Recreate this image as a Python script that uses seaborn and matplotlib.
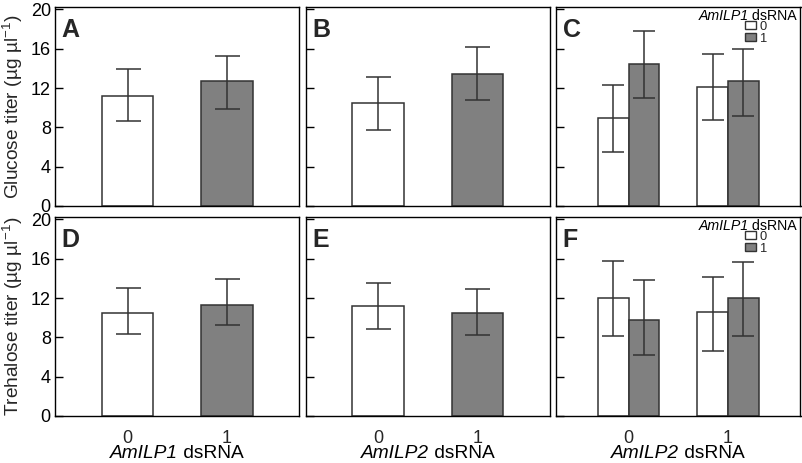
import matplotlib
matplotlib.use("Agg")
import matplotlib.pyplot as plt
import seaborn as sns
import pandas as pd
import numpy as np
from matplotlib.patches import Patch
from matplotlib.transforms import IdentityTransform

sns.set_theme(style="ticks")
plt.rcParams["font.family"] = ["Liberation Sans", "DejaVu Sans"]
plt.rcParams["mathtext.fontset"] = "custom"
plt.rcParams["mathtext.rm"] = "Liberation Sans"
plt.rcParams["mathtext.it"] = "Liberation Sans:italic"
plt.rcParams["mathtext.bf"] = "Liberation Sans:bold"

# ---------------- data ----------------
levels = ["0", "1"]

# Glucose
A_mean = [11.2, 12.75]
A_lo = [8.6, 9.9]
A_hi = [13.9, 15.3]

B_mean = [10.45, 13.45]
B_lo = [7.76, 10.78]
B_hi = [13.15, 16.14]

# C: x = AmILP2 dsRNA, hue = AmILP1 dsRNA
C_ilp1_0_mean = [8.98, 12.1]
C_ilp1_0_lo = [5.53, 8.75]
C_ilp1_0_hi = [12.34, 15.5]
C_ilp1_1_mean = [14.4, 12.7]
C_ilp1_1_lo = [11.0, 9.19]
C_ilp1_1_hi = [17.8, 16.0]

# Trehalose
D_mean = [10.44, 11.33]
D_lo = [8.3, 9.26]
D_hi = [13.0, 13.9]

E_mean = [11.2, 10.5]
E_lo = [8.88, 8.23]
E_hi = [13.57, 12.9]

F_ilp1_0_mean = [11.97, 10.54]
F_ilp1_0_lo = [8.16, 6.6]
F_ilp1_0_hi = [15.74, 14.15]
F_ilp1_1_mean = [9.8, 11.97]
F_ilp1_1_lo = [6.2, 8.09]
F_ilp1_1_hi = [13.8, 15.68]

panel_letters = ["A", "B", "C", "D", "E", "F"]
xlabel_genes = ["AmILP1", "AmILP2", "AmILP2"]
xlabel_suffix = " dsRNA"
ylabels = [r"Glucose titer (µg µl$^{-1}$)", r"Trehalose titer (µg µl$^{-1}$)"]
legend_gene = "AmILP1"
legend_suffix = " dsRNA"
yticks = [0, 4, 8, 12, 16, 20]

# ---------------- style ----------------
WHITE = "#ffffff"
GRAY = "#808080"
EDGE = "#333333"
FS = 13
LFS = 13.8

W, H = 803, 463
fig = plt.figure(figsize=(W / 100, H / 100), dpi=100)
lefts = [55, 305.5, 556]
axw = 244.5
rows = [(7, 206), (217, 416)]

axes = []
for r, (top, bot) in enumerate(rows):
    for c, l in enumerate(lefts):
        ax = fig.add_axes([l / W, 1 - bot / H, axw / W, (bot - top) / H])
        axes.append(ax)


def add_errorbars(ax, xs, mean, lo, hi, cap):
    m = np.array(mean)
    ax.errorbar(xs, m, yerr=[m - np.array(lo), np.array(hi) - m], fmt="none",
                ecolor=EDGE, elinewidth=1.1, capsize=cap, capthick=1.1, zorder=5)


def simple_panel(ax, mean, lo, hi):
    df = pd.DataFrame({"grp": levels, "val": mean})
    sns.barplot(data=df, x="grp", y="val", hue="grp", palette=[WHITE, GRAY],
                width=0.52, dodge=False, legend=False, edgecolor=EDGE,
                linewidth=1.1, ax=ax, errorbar=None, order=levels, hue_order=levels)
    xs = sorted([p.get_x() + p.get_width() / 2 for p in ax.patches])
    add_errorbars(ax, xs, mean, lo, hi, 9)


def hue_panel(ax, m0, lo0, hi0, m1, lo1, hi1):
    df = pd.DataFrame({"ilp2": levels * 2,
                       "ilp1": ["0", "0", "1", "1"],
                       "val": m0 + m1})
    sns.barplot(data=df, x="ilp2", y="val", hue="ilp1", palette=[WHITE, GRAY],
                width=0.62, legend=False, edgecolor=EDGE, linewidth=1.1, ax=ax,
                errorbar=None, order=levels, hue_order=levels)
    for cont, m, lo, hi in zip(ax.containers, [m0, m1], [lo0, lo1], [hi0, hi1]):
        xs = [p.get_x() + p.get_width() / 2 for p in cont]
        add_errorbars(ax, xs, m, lo, hi, 8)
    handles = [Patch(facecolor=WHITE, edgecolor=EDGE, linewidth=1, label="0"),
               Patch(facecolor=GRAY, edgecolor=EDGE, linewidth=1, label="1")]
    ax.legend(handles=handles, loc="upper left", bbox_to_anchor=(0.775, 0.93),
              frameon=False, fontsize=9.3, handlelength=0.8, handleheight=0.55,
              handletextpad=0.3, labelspacing=0.0, borderpad=0.0,
              borderaxespad=0.0)


simple_panel(axes[0], A_mean, A_lo, A_hi)
simple_panel(axes[1], B_mean, B_lo, B_hi)
hue_panel(axes[2], C_ilp1_0_mean, C_ilp1_0_lo, C_ilp1_0_hi,
          C_ilp1_1_mean, C_ilp1_1_lo, C_ilp1_1_hi)
simple_panel(axes[3], D_mean, D_lo, D_hi)
simple_panel(axes[4], E_mean, E_lo, E_hi)
hue_panel(axes[5], F_ilp1_0_mean, F_ilp1_0_lo, F_ilp1_0_hi,
          F_ilp1_1_mean, F_ilp1_1_lo, F_ilp1_1_hi)

for i, ax in enumerate(axes):
    r, c = divmod(i, 3)
    ax.set_ylim(0, 20.25)
    ax.set_xlim(-0.73, 1.73)
    ax.set_yticks(yticks)
    ax.tick_params(axis="y", direction="in", length=5.5, width=1, colors="black",
                   labelsize=FS, pad=3)
    ax.tick_params(axis="x", length=0, labelsize=FS, pad=10)
    for s in ax.spines.values():
        s.set_visible(True)
        s.set_color("black")
        s.set_linewidth(1)
    if c != 0:
        ax.set_yticklabels([])
        ax.set_ylabel("")
    else:
        ax.set_ylabel(ylabels[r], fontsize=LFS, labelpad=4)
    ax.set_xlabel("")
    if r == 0:
        ax.set_xticklabels([])
    else:
        ax.set_xticks([0, 1])
        ax.set_xticklabels(levels)
    ax.text(0.028, 0.945, panel_letters[i], transform=ax.transAxes, fontsize=18,
            fontweight="bold", va="top", ha="left")

renderer = fig.canvas.get_renderer()


def mixed_text(parts, x, y, ha, fs):
    """parts: list of (string, style); x, y in image pixels from top-left."""
    texts = [fig.text(0, 0, s, fontstyle=st, fontsize=fs, color="black",
                      transform=IdentityTransform(), ha="left", va="center")
             for s, st in parts]
    widths = [t.get_window_extent(renderer).width for t in texts]
    total = sum(widths)
    if ha == "center":
        x0 = x - total / 2
    elif ha == "right":
        x0 = x - total
    else:
        x0 = x
    for t, w in zip(texts, widths):
        t.set_position((x0, H - y))
        x0 += w


for c in range(3):
    xc = lefts[c] + axw / 2
    mixed_text([(xlabel_genes[c], "italic"), (xlabel_suffix, "normal")],
               xc, 454, "center", LFS)

for (top, bot) in rows:
    mixed_text([(legend_gene, "italic"), (legend_suffix, "normal")],
               797, top + 8.5, "right", 10.2)

fig.savefig("out.png", dpi=100)
